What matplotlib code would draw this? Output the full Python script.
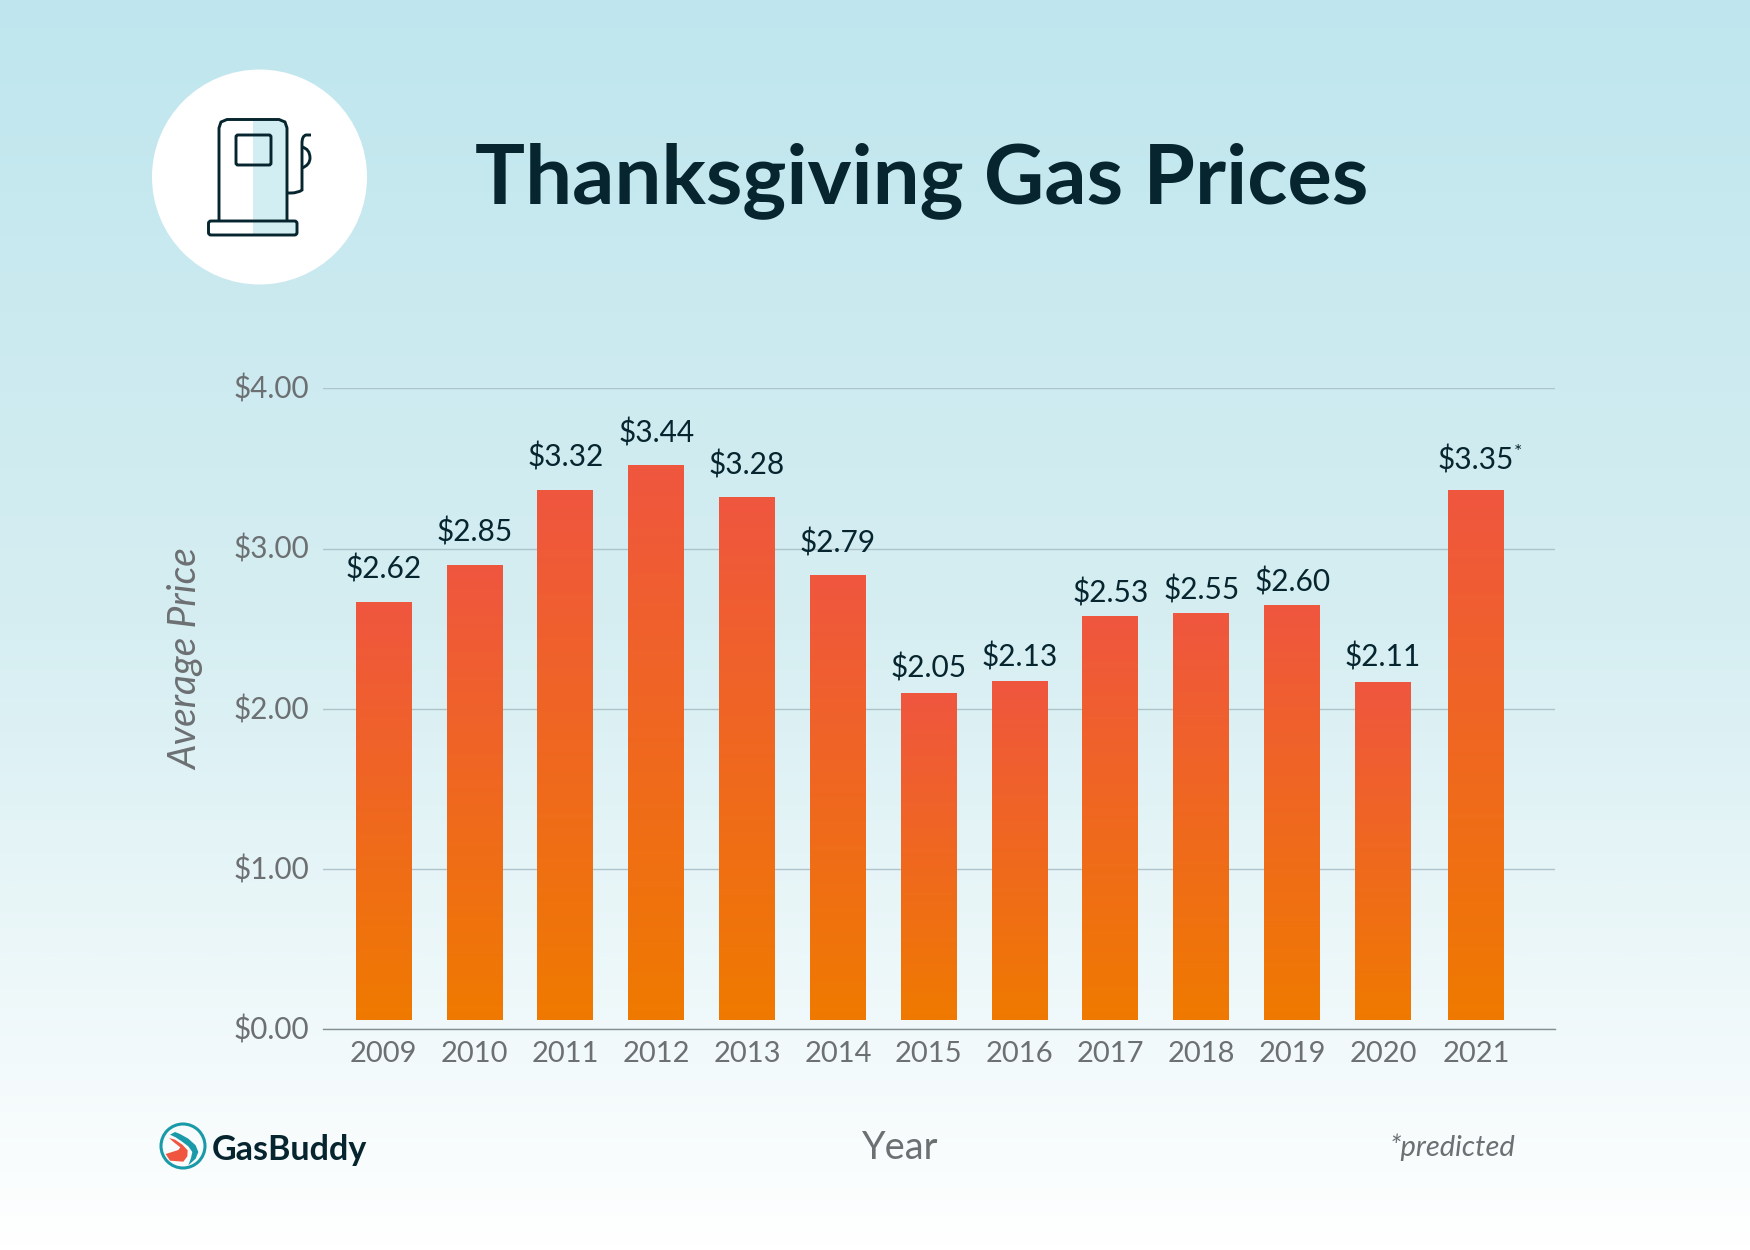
import numpy as np
import matplotlib
matplotlib.use("Agg")
import matplotlib.pyplot as plt
from matplotlib.colors import LinearSegmentedColormap
from matplotlib.patches import Circle, FancyBboxPatch, Rectangle, PathPatch, Polygon
from matplotlib.path import Path

# ---------- data ----------
years = ["2009", "2010", "2011", "2012", "2013", "2014", "2015", "2016", "2017", "2018", "2019", "2020", "2021"]
price_labels = ["$2.62", "$2.85", "$3.32", "$3.44", "$3.28", "$2.79", "$2.05", "$2.13", "$2.53", "$2.55", "$2.60", "$2.11", "$3.35"]
# bar tops as drawn against the y axis (the picture's bars sit slightly above the baseline)
bar_tops = [2.668, 2.898, 3.365, 3.52, 3.32, 2.835, 2.097, 2.17, 2.577, 2.595, 2.648, 2.165, 3.365]
bar_bottom = 0.056
y_ticks = [0, 1, 2, 3, 4]
y_tick_labels = ["$0.00", "$1.00", "$2.00", "$3.00", "$4.00"]

# styling: how far above its bar each value label sits (points)
label_gap = [23.5, 23.5, 23.5, 23.3, 23.5, 23.3, 17.8, 17.6, 16.8, 17.0, 16.4, 18.0, 21.8]

DARK = "#06252F"
GRAY = "#6C7073"
FONT = "Lato"
W, H = 1750, 1250

fig = plt.figure(figsize=(W / 100, H / 100), dpi=100)

# ---------- background + decorations, in pixel coordinates ----------
bg = fig.add_axes([0, 0, 1, 1], zorder=0)
bg.set_xlim(0, W); bg.set_ylim(H, 0); bg.axis("off")
bg_cmap = LinearSegmentedColormap.from_list("bg", ["#BFE6EE", "#D6EEF2", "#FFFFFF"])
bg.imshow(np.linspace(0, 1, 512).reshape(-1, 1), cmap=bg_cmap, extent=[0, W, H, 0], aspect="auto", interpolation="bilinear")
bg.set_xlim(0, W); bg.set_ylim(H, 0)

# pump icon
bg.add_patch(Circle((259.5, 177), 107.5, fc="white", ec="none"))
ILW = 2.1
bg.add_patch(Rectangle((253, 120), 33, 101, fc="#D2EEF2", ec="none"))
bg.add_patch(Rectangle((253, 222), 43, 12, fc="#D2EEF2", ec="none"))
bg.add_patch(Polygon([(219, 221), (219, 128), (221, 122), (227, 119.5), (279, 119.5), (285, 122), (287, 128), (287, 221)],
                     closed=False, fc="none", ec=DARK, lw=ILW, joinstyle="round"))
bg.add_patch(FancyBboxPatch((236, 135), 35, 30, boxstyle="round,pad=0,rounding_size=2", fc="none", ec=DARK, lw=ILW))
bg.add_patch(FancyBboxPatch((208.5, 221), 88.5, 14, boxstyle="round,pad=0,rounding_size=2.5", fc="none", ec=DARK, lw=ILW))
hose = Path([(287, 193), (291, 193), (298, 193), (302, 190), (302, 184), (302, 170), (302, 143), (302, 136), (306, 135), (311, 135)],
            [Path.MOVETO, Path.LINETO, Path.CURVE3, Path.CURVE3, Path.CURVE3, Path.LINETO, Path.LINETO, Path.CURVE3, Path.CURVE3, Path.LINETO])
bg.add_patch(PathPatch(hose, fc="none", ec=DARK, lw=ILW))
noz = Path([(302, 147), (310, 149), (310, 158), (310, 165), (302, 168)],
           [Path.MOVETO, Path.CURVE3, Path.CURVE3, Path.CURVE3, Path.CURVE3])
bg.add_patch(PathPatch(noz, fc="none", ec=DARK, lw=ILW))

# logo
def lg(pts):
    return [(155 + a / 3, 1118 + b / 3) for a, b in pts]
bg.add_patch(Circle((183, 1146), 22, fc="none", ec="#1A9AA8", lw=2.2))
bg.add_patch(Polygon(lg([(45, 50), (60, 42), (75, 48), (100, 62), (122, 82), (130, 102), (122, 122), (100, 142),
                         (108, 120), (112, 102), (100, 85), (80, 70), (62, 58)]),
                     closed=True, fc="#1A9AA8", ec="none"))
bg.add_patch(Polygon(lg([(42, 60), (60, 65), (82, 80), (98, 97), (97, 115), (85, 131), (45, 128), (32, 108),
                         (70, 96), (76, 88), (58, 74)]),
                     closed=True, fc="#F0563F", ec="none"))
bg.text(212, 1150, "GasBuddy", fontsize=24.5, fontweight="bold", family=FONT, color=DARK, ha="left", va="center")

# titles / footer texts
bg.text(922, 180.5, "Thanksgiving Gas Prices", fontsize=60, fontweight="bold", family=FONT, color=DARK, ha="center", va="center")
bg.text(900, 1148, "Year", fontsize=27.4, family=FONT, color=GRAY, ha="center", va="center")
bg.text(1515, 1147, "*predicted", fontsize=21, style="italic", family=FONT, color=GRAY, ha="right", va="center")
bg.text(186.5, 659, "Average Price", fontsize=28, style="italic", family=FONT, color=GRAY, rotation=90, ha="center", va="center")

# ---------- chart ----------
ax = fig.add_axes([323 / W, 1 - 1029 / H, (1555 - 323) / W, (1029 - 388.4) / H], zorder=1)
ax.patch.set_alpha(0)
x = np.arange(len(years), dtype=float)
x[-1] += 0.024   # the last column sits slightly apart in the picture
bar_width = 0.616
ax.set_xlim(-0.668, 12.893)
ax.set_ylim(0, 4)

heights = np.array(bar_tops) - bar_bottom
bars = ax.bar(x, heights, width=bar_width, bottom=bar_bottom, color="#F0563F", linewidth=0, zorder=2)
grad = LinearSegmentedColormap.from_list("bar", ["#EF7A00", "#F0563F"])
gradient = np.linspace(0, 1, 256).reshape(-1, 1)
for b in bars:
    im = ax.imshow(gradient, cmap=grad, origin="lower", aspect="auto", zorder=3, interpolation="bilinear",
                   extent=[b.get_x(), b.get_x() + b.get_width(), b.get_y(), b.get_y() + b.get_height()])
    im.set_clip_path(b)
ax.set_xlim(-0.668, 12.893)
ax.set_ylim(0, 4)

for xi, top, lab, gap in zip(x, bar_tops, price_labels, label_gap):
    ax.annotate(lab, (xi, top), xytext=(0, gap), textcoords="offset points", ha="center", va="center",
                fontsize=21.5, family=FONT, color=DARK, zorder=4)
ax.annotate("*", (x[-1], bar_tops[-1]), xytext=(30, 27), textcoords="offset points", ha="center", va="center",
            fontsize=14, family=FONT, color=DARK, zorder=4)

ax.set_yticks(y_ticks)
ax.set_yticklabels(y_tick_labels, fontsize=21.3, family=FONT, color=GRAY)
ax.set_xticks(x)
ax.set_xticklabels(years, fontsize=21, family=FONT, color=GRAY)
ax.tick_params(axis="both", length=0)
ax.tick_params(axis="x", pad=9)
ax.tick_params(axis="y", pad=10)
offset_up = matplotlib.transforms.ScaledTranslation(0, 1.2 / 72, fig.dpi_scale_trans)
for t in ax.get_yticklabels():
    t.set_transform(t.get_transform() + offset_up)
ax.grid(axis="y", color="#AFC3CA", lw=1.0, zorder=1)
ax.set_axisbelow(True)
for s in ["top", "right", "left"]:
    ax.spines[s].set_visible(False)
ax.spines["bottom"].set_color("#858E91")
ax.spines["bottom"].set_linewidth(1.0)

fig.savefig("out.png", dpi=100)
